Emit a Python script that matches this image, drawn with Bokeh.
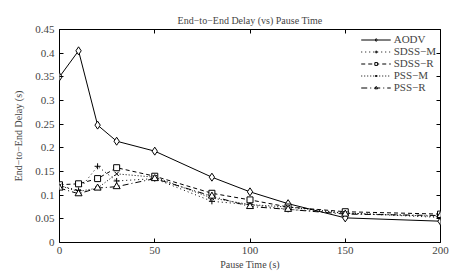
from bokeh.plotting import figure
from bokeh.models import Range1d, LinearAxis, FixedTicker, Legend, LegendItem
from bokeh.embed import file_html
from bokeh.resources import INLINE

pause = [0, 10, 20, 30, 50, 80, 100, 120, 150, 200]
aodv = [0.350, 0.405, 0.248, 0.214, 0.193, 0.138, 0.107, 0.082, 0.052, 0.045]
sdss_m = [0.120, 0.110, 0.161, 0.130, 0.135, 0.087, 0.080, 0.070, 0.062, 0.053]
sdss_r = [0.122, 0.124, 0.135, 0.158, 0.140, 0.104, 0.090, 0.075, 0.065, 0.060]
pss_m = [0.120, 0.108, 0.115, 0.145, 0.138, 0.094, 0.080, 0.075, 0.062, 0.055]
pss_r = [0.115, 0.103, 0.115, 0.118, 0.135, 0.098, 0.076, 0.070, 0.060, 0.057]

xticks = [0, 50, 100, 150, 200]
yticks = [0, 0.05, 0.1, 0.15, 0.2, 0.25, 0.3, 0.35, 0.4, 0.45]
ytick_labels = ["0", "0.05", "0.1", "0.15", "0.2", "0.25", "0.3", "0.35", "0.4", "0.45"]

FONT = "Liberation Serif"

p = figure(width=450, height=273, output_backend="svg", toolbar_location=None,
           x_range=Range1d(0, 200), y_range=Range1d(0, 0.45),
           title="End\u2212to\u2212End Delay (vs) Pause Time")
p.min_border_left = 59
p.min_border_right = 10
p.min_border_top = 29
p.min_border_bottom = 31
p.title.align = "center"
p.title.text_font = FONT
p.title.text_font_size = "10px"
p.title.text_font_style = "normal"
p.title.standoff = 8
p.xgrid.visible = False
p.ygrid.visible = False
p.outline_line_color = "black"
p.outline_line_width = 1
p.outline_line_alpha = 1

def style_axis(ax, labels=True):
    ax.axis_line_color = None
    ax.major_tick_in = 4
    ax.major_tick_out = 0
    ax.minor_tick_in = 0
    ax.minor_tick_out = 0
    ax.major_tick_line_color = "black"
    ax.major_label_text_font = FONT
    ax.major_label_text_font_size = "11px"
    ax.axis_label_text_font = FONT
    ax.axis_label_text_font_size = "10px"
    ax.axis_label_text_font_style = "normal"
    ax.axis_label_standoff = 2
    ax.major_label_standoff = 4
    if not labels:
        ax.major_label_text_alpha = 0
        ax.major_label_text_font_size = "1px"
        ax.major_label_standoff = 0

p.xaxis.ticker = FixedTicker(ticks=xticks)
p.yaxis.ticker = FixedTicker(ticks=yticks)
p.yaxis.major_label_overrides = {t: l for t, l in zip(yticks, ytick_labels)}
p.xaxis.axis_label = "Pause Time (s)"
p.yaxis.axis_label = "End\u2212to\u2212End Delay (s)"
style_axis(p.xaxis[0])
style_axis(p.yaxis[0])
p.yaxis[0].axis_label_standoff = 8
p.yaxis[0].major_label_standoff = 5

ra = LinearAxis(ticker=FixedTicker(ticks=yticks))
style_axis(ra, labels=False)
p.add_layout(ra, "right")
ta = LinearAxis(ticker=FixedTicker(ticks=xticks))
style_axis(ta, labels=False)
p.add_layout(ta, "above")

items = []
series = [
    ("AODV", aodv, "solid", "diamond", 8),
    ("SDSS\u2212M", sdss_m, "1 3", "cross", 6),
    ("SDSS\u2212R", sdss_r, "4 3", "square", 6),
    ("PSS\u2212M", pss_m, "1 2", "x", 6),
    ("PSS\u2212R", pss_r, "6 3 1 3", "triangle", 7),
]
for name, ys, dash, marker, sz in series:
    l = p.line(pause, ys, line_color="black", line_width=1, line_dash=dash)
    m = p.scatter(pause, ys, marker=marker, size=sz, line_color="black",
                  fill_color="white" if marker in ("diamond", "square", "triangle") else None,
                  line_width=1)
    items.append(LegendItem(label=name, renderers=[l, m]))

leg = Legend(items=items, location="top_right")
leg.border_line_color = None
leg.background_fill_alpha = 0
leg.label_text_font = FONT
leg.label_text_font_size = "11px"
leg.label_height = 7
leg.glyph_height = 7
leg.glyph_width = 30
leg.spacing = 0
leg.padding = 4
leg.margin = 4
leg.label_standoff = 3
p.add_layout(leg)

open("out.html", "w").write(file_html(p, INLINE))
